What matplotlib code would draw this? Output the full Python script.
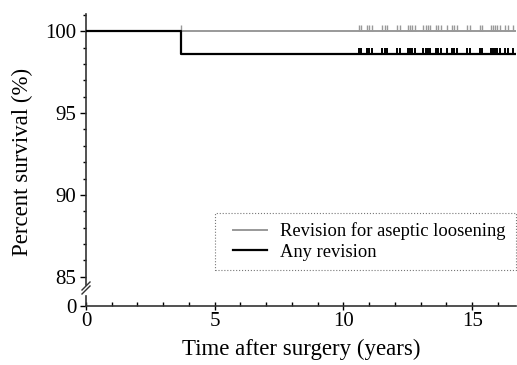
import numpy as np
import matplotlib
matplotlib.use("Agg")
import matplotlib.pyplot as plt
from matplotlib.ticker import MultipleLocator
from matplotlib.lines import Line2D
from matplotlib.legend_handler import HandlerLine2D

plt.rcParams['font.family'] = ['Liberation Serif', 'DejaVu Serif']

# ---- data ----
x_max = 16.7
event_time = 3.68          # the single revision
any_surv = [100.0, 98.6]   # any revision: before / after
asl_surv = [100.0, 100.0]  # aseptic loosening: no events

# censoring marks (same patients in both curves)
censor_times = [10.59, 10.69, 10.90, 10.98, 11.09, 11.51, 11.60, 11.69,
                12.09, 12.18, 12.51, 12.59, 12.67, 12.76, 13.10, 13.19,
                13.28, 13.37, 13.59, 13.68, 13.77, 14.02, 14.21, 14.30,
                14.39, 14.81, 14.91, 15.30, 15.39, 15.71, 15.80, 15.89,
                15.98, 16.07, 16.28, 16.37, 16.60]
asl_extra_censor = [3.68]  # the revised case is censored in the aseptic curve

grey = '#999999'

fig = plt.figure(figsize=(5.17, 3.65), dpi=100)
L, R = 86 / 517, 516 / 517
ax = fig.add_axes([L, 1 - 285 / 365, R - L, (285 - 14) / 365])
ax0 = fig.add_axes([L, 1 - 306 / 365, R - L, (306 - 296) / 365])

# ---- curves ----
t = [0, event_time, x_max]
ax.step(t, [asl_surv[0], asl_surv[1], asl_surv[1]], where='post',
        color=grey, lw=1.4, label='Revision for aseptic loosening', zorder=3)
ax.step(t, [any_surv[0], any_surv[1], any_surv[1]], where='post',
        color='black', lw=1.6, label='Any revision', zorder=4)

# censor ticks
ct_asl = asl_extra_censor + censor_times
ax.plot(ct_asl, [asl_surv[1]] * len(ct_asl), ls='none', marker=2,
        ms=4.5, mew=1.0, color=grey, zorder=3)
ax.plot(censor_times, [any_surv[1]] * len(censor_times), ls='none', marker=2,
        ms=4.5, mew=1.4, color='black', zorder=4)

# ---- upper axis ----
ax.set_xlim(0, x_max)
ax.set_ylim(84.5, 101.05)
ax.yaxis.set_major_locator(MultipleLocator(5))
ax.yaxis.set_minor_locator(MultipleLocator(1))
ax.tick_params(axis='y', which='major', direction='out', length=4, width=1,
               labelsize=15, pad=3)
ax.tick_params(axis='y', which='minor', direction='out', length=2.5, width=1)
ax.tick_params(axis='x', which='both', bottom=False, labelbottom=False)
for s in ['top', 'right', 'bottom']:
    ax.spines[s].set_visible(False)
ax.spines['left'].set_color('#333333')
ax.spines['left'].set_linewidth(1.2)
ax.patch.set_alpha(0)

# ---- lower (zero) axis ----
ax0.set_xlim(0, x_max)
ax0.set_ylim(0, 0.6)
ax0.set_yticks([0])
ax0.xaxis.set_major_locator(MultipleLocator(5))
ax0.xaxis.set_minor_locator(MultipleLocator(1))
ax0.tick_params(axis='y', direction='out', length=4, width=1, labelsize=15, pad=3)
ax0.tick_params(axis='x', which='major', direction='inout', length=6, width=1,
                labelsize=15, pad=1)
ax0.tick_params(axis='x', which='minor', direction='in', length=3, width=1)
for s in ['top', 'right']:
    ax0.spines[s].set_visible(False)
for s in ['left', 'bottom']:
    ax0.spines[s].set_color('#333333')
    ax0.spines[s].set_linewidth(1.2)
ax0.patch.set_alpha(0)
ax0.set_xlabel('Time after surgery (years)', fontsize=16.5, labelpad=6)

# axis break marks
for dy in (0, 4):
    fig.add_artist(plt.Line2D([82 / 517, 90 / 517],
                              [1 - (294 - dy) / 365, 1 - (286 - dy) / 365],
                              color='#333333', lw=1.0))

fig.text(0.043, 1 - 162 / 365, 'Percent survival (%)', rotation=90,
         ha='center', va='center', fontsize=16.5)

# ---- legend ----
leg = ax.legend(loc='lower left', bbox_to_anchor=(0.30, 0.055, 0.70, 0.211),
                mode='expand', fontsize=13.3, handlelength=2.3,
                handletextpad=0.7, borderpad=0.5, borderaxespad=0,
                labelspacing=0.2, frameon=True, fancybox=False,
                handler_map={Line2D: HandlerLine2D(xpad=0.5)})
fr = leg.get_frame()
fr.set_linestyle(':')
fr.set_edgecolor('#555555')
fr.set_linewidth(0.8)

fig.savefig('out.png', dpi=100)
